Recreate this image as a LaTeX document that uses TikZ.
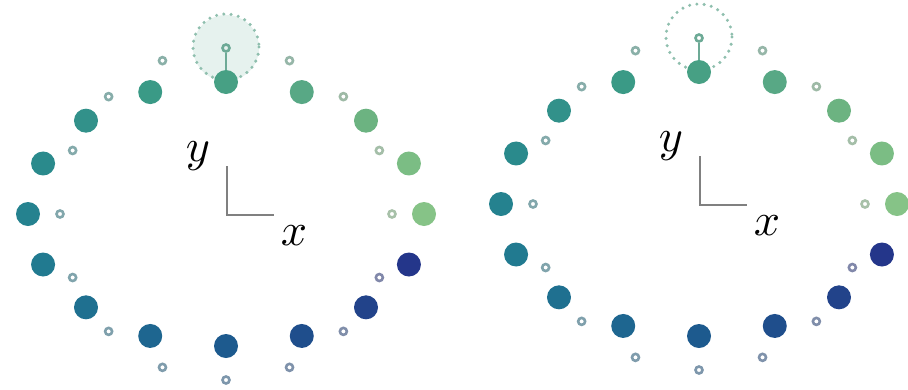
\documentclass[tikz,border=0pt]{standalone}
\definecolor{c0}{HTML}{86C387}
\definecolor{c1}{HTML}{7BBD84}
\definecolor{c2}{HTML}{6CB381}
\definecolor{c3}{HTML}{58A885}
\definecolor{c4}{HTML}{47A084}
\definecolor{c5}{HTML}{3A9A86}
\definecolor{c6}{HTML}{32918A}
\definecolor{c7}{HTML}{2A8A8C}
\definecolor{c8}{HTML}{25828F}
\definecolor{c9}{HTML}{217A90}
\definecolor{c10}{HTML}{1F7090}
\definecolor{c11}{HTML}{1E6690}
\definecolor{c12}{HTML}{1D5A8E}
\definecolor{c13}{HTML}{1F4E8C}
\definecolor{c14}{HTML}{22438A}
\definecolor{c15}{HTML}{24368A}
\definecolor{axisgray}{HTML}{808080}
\definecolor{selgreen}{HTML}{6DAA96}
\definecolor{seldot}{HTML}{8FBFAE}
\definecolor{selfill}{HTML}{E6F2EE}
\tikzset{
  bigdot/.style={circle, inner sep=0pt, minimum size=24pt},
  smallring/.style={circle, inner sep=0pt, minimum size=7pt, line width=2.6pt},
  selcircle/.style={draw=seldot, line width=3.4pt, dash pattern=on 0pt off 7.3pt, line cap=round},
  stem/.style={draw=selgreen, line width=2.8pt},
  axisline/.style={draw=axisgray, line width=1.3pt},
  lbl/.style={inner sep=0pt, scale=4.6}
}
\begin{document}
\begin{tikzpicture}[x=1pt,y=-1pt]
\useasboundingbox (0,0) rectangle (908,389);
% ---------- left figure ----------
\def\cx{226}\def\cy{214}
\fill[selfill] (\cx,48) circle (33);
\draw[selcircle] (\cx,47) circle (33);
\foreach \i in {0,...,15}{
  \pgfmathsetmacro{\a}{22.5*\i}
  \ifnum\i=4
    \node[smallring, draw=selgreen] (Lr\i) at ({\cx+166*cos(\a)},{\cy-166*sin(\a)}) {};
  \else
    \node[smallring, draw=c\i!40!lightgray] (Lr\i) at ({\cx+166*cos(\a)},{\cy-166*sin(\a)}) {};
  \fi
  \node[bigdot, fill=c\i] (Ld\i) at ({\cx+198*cos(\a)},{\cy-132*sin(\a)}) {};
}
\draw[stem] (Lr4) -- (Ld4);
\coordinate (Lo) at (227,215);
\coordinate (Ly) at (227,166);
\coordinate (Lx) at (274,215);
\draw[axisline] (Ly) -- (Lo) -- (Lx);
\node[lbl] (Lylab) at (198,156) {$y$};
\node[lbl] (Lxlab) at (294,236) {$x$};
% ---------- right figure ----------
\def\cx{699}\def\cy{204}
\draw[selcircle] (\cx,37) circle (33);
\foreach \i in {0,...,15}{
  \pgfmathsetmacro{\a}{22.5*\i}
  \ifnum\i=4
    \node[smallring, draw=selgreen] (Rr\i) at ({\cx+166*cos(\a)},{\cy-166*sin(\a)}) {};
  \else
    \node[smallring, draw=c\i!40!lightgray] (Rr\i) at ({\cx+166*cos(\a)},{\cy-166*sin(\a)}) {};
  \fi
  \node[bigdot, fill=c\i] (Rd\i) at ({\cx+198*cos(\a)},{\cy-132*sin(\a)}) {};
}
\draw[stem] (Rr4) -- (Rd4);
\coordinate (Ro) at (700,205);
\coordinate (Ry) at (700,156);
\coordinate (Rx) at (747,205);
\draw[axisline] (Ry) -- (Ro) -- (Rx);
\node[lbl] (Rylab) at (671,146) {$y$};
\node[lbl] (Rxlab) at (767,226) {$x$};
\end{tikzpicture}
\end{document}
